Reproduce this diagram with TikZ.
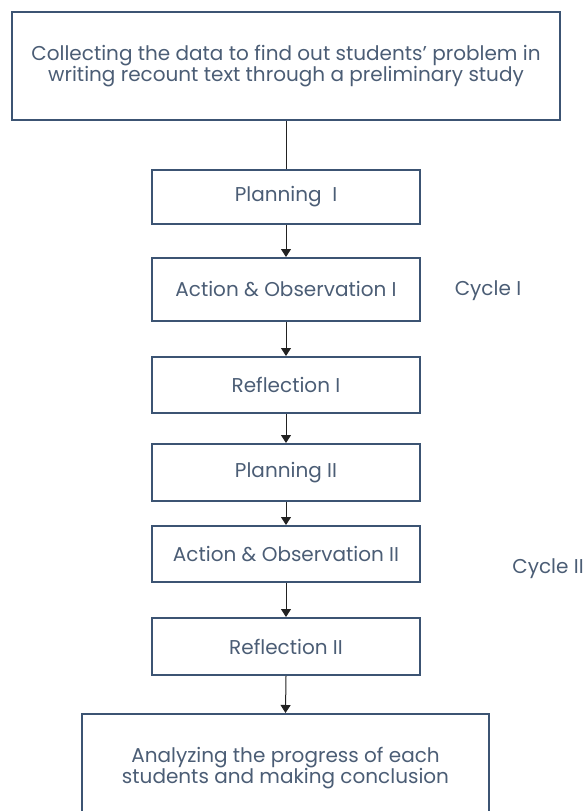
\documentclass[tikz,border=0pt]{standalone}
\usepackage{fontspec}
\setmainfont{Poppins}
\usetikzlibrary{arrows.meta}
\definecolor{boxline}{HTML}{3C5473}
\definecolor{boxtext}{HTML}{4B5D75}
\definecolor{arrowc}{HTML}{222222}
\tikzset{
  stepbox/.style={draw=boxline, line width=2pt, text=boxtext, align=center,
    inner sep=0pt, font=\fontsize{20}{19.5}\selectfont},
  smallbox/.style={stepbox, minimum width=268pt},
  flowarrow/.style={draw=arrowc, line width=1pt, -{Triangle[width=10pt,length=8pt]}},
  cyclelabel/.style={text=boxtext, font=\fontsize{20}{20}\selectfont}
}
\begin{document}
\begin{tikzpicture}[x=1pt,y=-1pt]
\useasboundingbox (0,0) rectangle (587,811);
\clip (0,0) rectangle (587,811);
\node[stepbox, minimum width=548pt, minimum height=108pt] (collect) at (286,66)
  {\raisebox{-2pt}{\parbox{540pt}{\centering Collecting the data to find out students{\char"0027} problem in\\writing recount text through a preliminary study}}};
\node[smallbox, minimum height=54pt] (plan1) at (286,197) {Planning\ \ I};
\node[smallbox, minimum height=63pt] (act1) at (286,289.5) {Action \& Observation I};
\node[smallbox, minimum height=56pt] (refl1) at (286,385) {Reflection I};
\node[smallbox, minimum height=57pt] (plan2) at (286,472.5) {Planning II};
\node[smallbox, minimum height=56pt] (act2) at (286,554) {Action \& Observation II};
\node[smallbox, minimum height=57pt] (refl2) at (286,646.5) {Reflection II};
\node[stepbox, minimum width=407pt, minimum height=108pt] (analyze) at (285.5,768)
  {Analyzing the progress of each\\students and making conclusion};
\node[cyclelabel] (cyc1) at (488,291) {Cycle I};
\node[cyclelabel] (cyc2) at (548,569) {Cycle II};
\draw[draw=arrowc, line width=1pt] (collect.south) -- (plan1.north);
\draw[flowarrow] (plan1.south) -- (act1.north);
\draw[flowarrow] (act1.south) -- (refl1.north);
\draw[flowarrow] (refl1.south) -- (plan2.north);
\draw[flowarrow] (plan2.south) -- (act2.north);
\draw[flowarrow] (act2.south) -- (refl2.north);
\draw[flowarrow] (refl2.south) -- (analyze.north);
\end{tikzpicture}
\end{document}
